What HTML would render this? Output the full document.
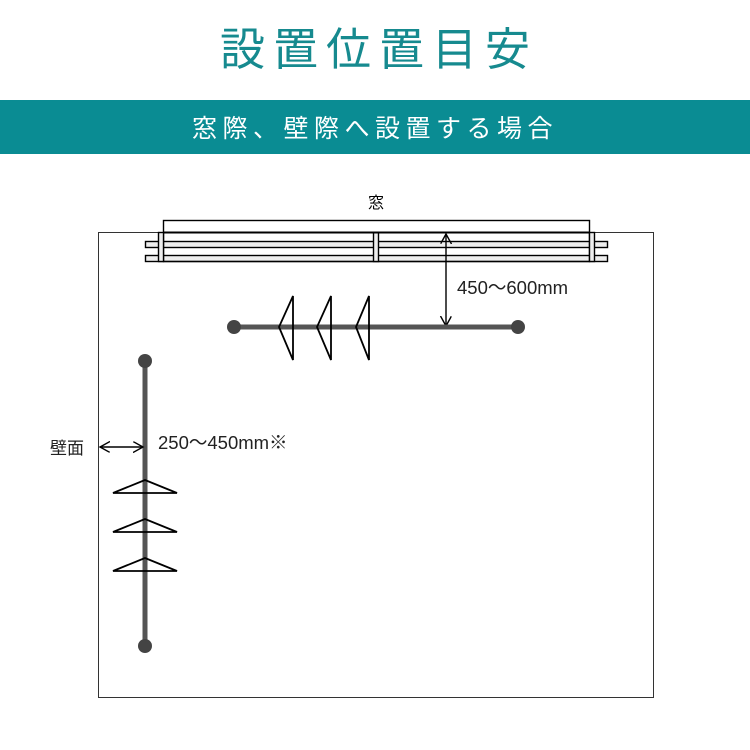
<!DOCTYPE html>
<html><head><meta charset="utf-8"><style>
body{margin:0;width:750px;height:750px;background:#fff;overflow:hidden;position:relative;font-family:"Liberation Sans","Noto Sans CJK JP",sans-serif}
.t{position:absolute;left:0;width:750px;text-align:center;font-family:"Noto Sans CJK JP",sans-serif}
</style></head><body>
<div class="t" style="top:14px;font-size:45px;line-height:64px;color:#168a8f;letter-spacing:8px;padding-left:4px">設置位置目安</div>
<div style="position:absolute;left:0;top:100px;width:750px;height:54px;background:#0a8c93"></div>
<div class="t" style="top:108px;font-size:25px;line-height:38px;color:#fff;letter-spacing:5.5px;padding-left:0px">窓際、壁際へ設置する場合</div>
<svg width="750" height="750" style="position:absolute;left:0;top:0">
<defs><marker id="a" markerWidth="12" markerHeight="12" refX="10" refY="5.5" orient="auto-start-reverse" markerUnits="userSpaceOnUse"><path d="M0,0 L10,5.5 L0,11" fill="none" stroke="#000" stroke-width="1.4"/></marker></defs>
<rect x="98.5" y="232.5" width="555" height="465" fill="none" stroke="#333" stroke-width="1"/>
<rect x="163.5" y="220.5" width="426" height="12" fill="#fff" stroke="#000" stroke-width="1.4"/>
<rect x="145.5" y="241.5" width="462" height="6" fill="#eee" stroke="#000" stroke-width="1.4"/>
<rect x="145.5" y="255.5" width="462" height="6" fill="#eee" stroke="#000" stroke-width="1.4"/>
<rect x="163.5" y="232.5" width="426" height="29" fill="none" stroke="#000" stroke-width="1.4"/>
<rect x="158.5" y="232.5" width="5" height="29" fill="#eee" stroke="#000" stroke-width="1.4"/>
<rect x="589.5" y="232.5" width="5" height="29" fill="#eee" stroke="#000" stroke-width="1.4"/>
<rect x="373.5" y="232.5" width="5" height="29" fill="#eee" stroke="#000" stroke-width="1.4"/>
<line x1="163" y1="232.5" x2="589" y2="232.5" stroke="#000" stroke-width="2"/>
<text x="376" y="208" font-size="16" text-anchor="middle" font-family="Noto Sans CJK JP,sans-serif">窓</text>
<line x1="446" y1="234" x2="446" y2="326" stroke="#000" stroke-width="1.4" marker-start="url(#a)" marker-end="url(#a)"/>
<text x="457" y="294" font-size="18.5" font-family="Liberation Sans,Noto Sans CJK JP,sans-serif" fill="#222">450～600mm</text>
<line x1="234" y1="327" x2="518" y2="327" stroke="#555" stroke-width="5"/>
<circle cx="234" cy="327" r="7" fill="#444"/><circle cx="518" cy="327" r="7" fill="#444"/>
<g fill="none" stroke="#000" stroke-width="1.8">
<path d="M293,296 L279,327 L293,360 Z"/><path d="M331,296 L317,327 L331,360 Z"/><path d="M369,296 L356,327 L369,360 Z"/>
</g>
<line x1="145" y1="361" x2="145" y2="646" stroke="#555" stroke-width="5"/>
<circle cx="145" cy="361" r="7" fill="#444"/><circle cx="145" cy="646" r="7" fill="#444"/>
<g fill="none" stroke="#000" stroke-width="1.8">
<path d="M113,493 L145,480 L177,493 Z"/><path d="M113,532 L145,519 L177,532 Z"/><path d="M113,571 L145,558 L177,571 Z"/>
</g>
<line x1="100" y1="447" x2="143" y2="447" stroke="#000" stroke-width="1.4" marker-start="url(#a)" marker-end="url(#a)"/>
<text x="50" y="454" font-size="17" font-family="Noto Sans CJK JP,sans-serif" fill="#222">壁面</text>
<text x="158" y="449" font-size="18.5" font-family="Liberation Sans,Noto Sans CJK JP,sans-serif" fill="#222">250～450mm※</text>
</svg>
</body></html>
